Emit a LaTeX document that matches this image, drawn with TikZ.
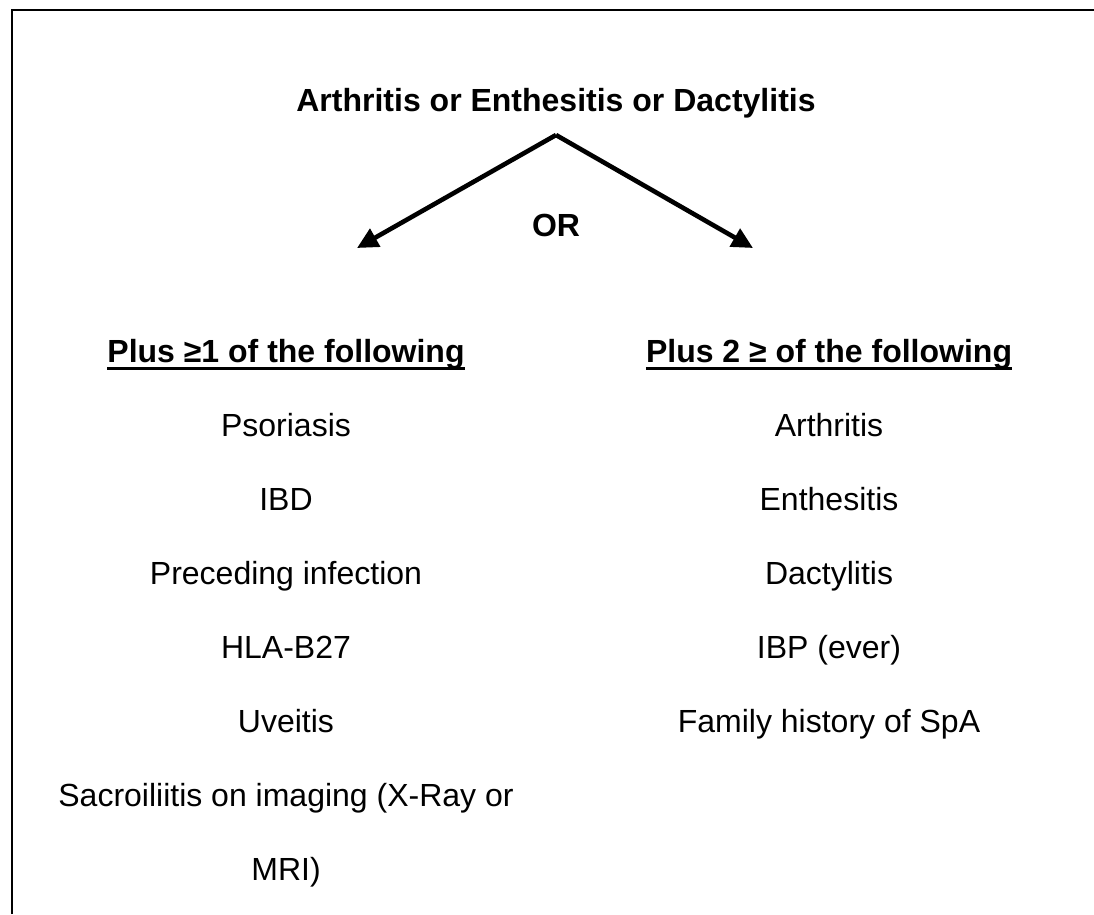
\documentclass[tikz,border=0pt]{standalone}
\usepackage{fontspec}
\setmainfont{Liberation Sans}
\usetikzlibrary{arrows.meta}
\begin{document}
\begin{tikzpicture}[x=1pt,y=-1pt,
  txt/.style={font=\fontsize{32}{38}\selectfont, inner sep=0pt, anchor=base},
  btxt/.style={font=\fontsize{32}{38}\selectfont\bfseries, inner sep=0pt, anchor=base},
  arr/.style={line width=4.6pt, -{Triangle[length=21pt,width=20pt]}},
  uline/.style={line width=3pt}]
\useasboundingbox (0,0) rectangle (1094,914);
\fill[white] (0,0) rectangle (1094,914);
\draw[line width=2.4pt] (12,914) -- (12,10) -- (1094,10);
% title
\node[btxt] (title) at (556,111.5) {Arthritis or Enthesitis or Dactylitis};
\coordinate (apex) at (556,135);
\coordinate (ltip) at (357,248);
\coordinate (rtip) at (753,248);
\draw[arr] (apex) -- (ltip);
\draw[arr] (apex) -- (rtip);
\node[btxt] (or) at (556,236.5) {OR};
% headers
\node[btxt] (h1) at (286,362.5) {Plus ≥1 of the following};
\node[btxt] (h2) at (829,362.5) {Plus 2 ≥ of the following};
\draw[uline] ([yshift=-5.5pt]h1.base west) -- ([yshift=-5.5pt]h1.base east);
\draw[uline] ([yshift=-5.5pt]h2.base west) -- ([yshift=-5.5pt]h2.base east);
% left list
\node[txt] (l1) at (286,436.5) {Psoriasis};
\node[txt] (l2) at (286,510.5) {IBD};
\node[txt] (l3) at (286,584.5) {Preceding infection};
\node[txt] (l4) at (286,658.5) {HLA-B27};
\node[txt] (l5) at (286,732.5) {Uveitis};
\node[txt] (l6) at (286,806.5) {Sacroiliitis on imaging (X-Ray or};
\node[txt] (l7) at (286,880.5) {MRI)};
% right list
\node[txt] (r1) at (829,436.5) {Arthritis};
\node[txt] (r2) at (829,510.5) {Enthesitis};
\node[txt] (r3) at (829,584.5) {Dactylitis};
\node[txt] (r4) at (829,658.5) {IBP (ever)};
\node[txt] (r5) at (829,732.5) {Family history of SpA};
\end{tikzpicture}
\end{document}
